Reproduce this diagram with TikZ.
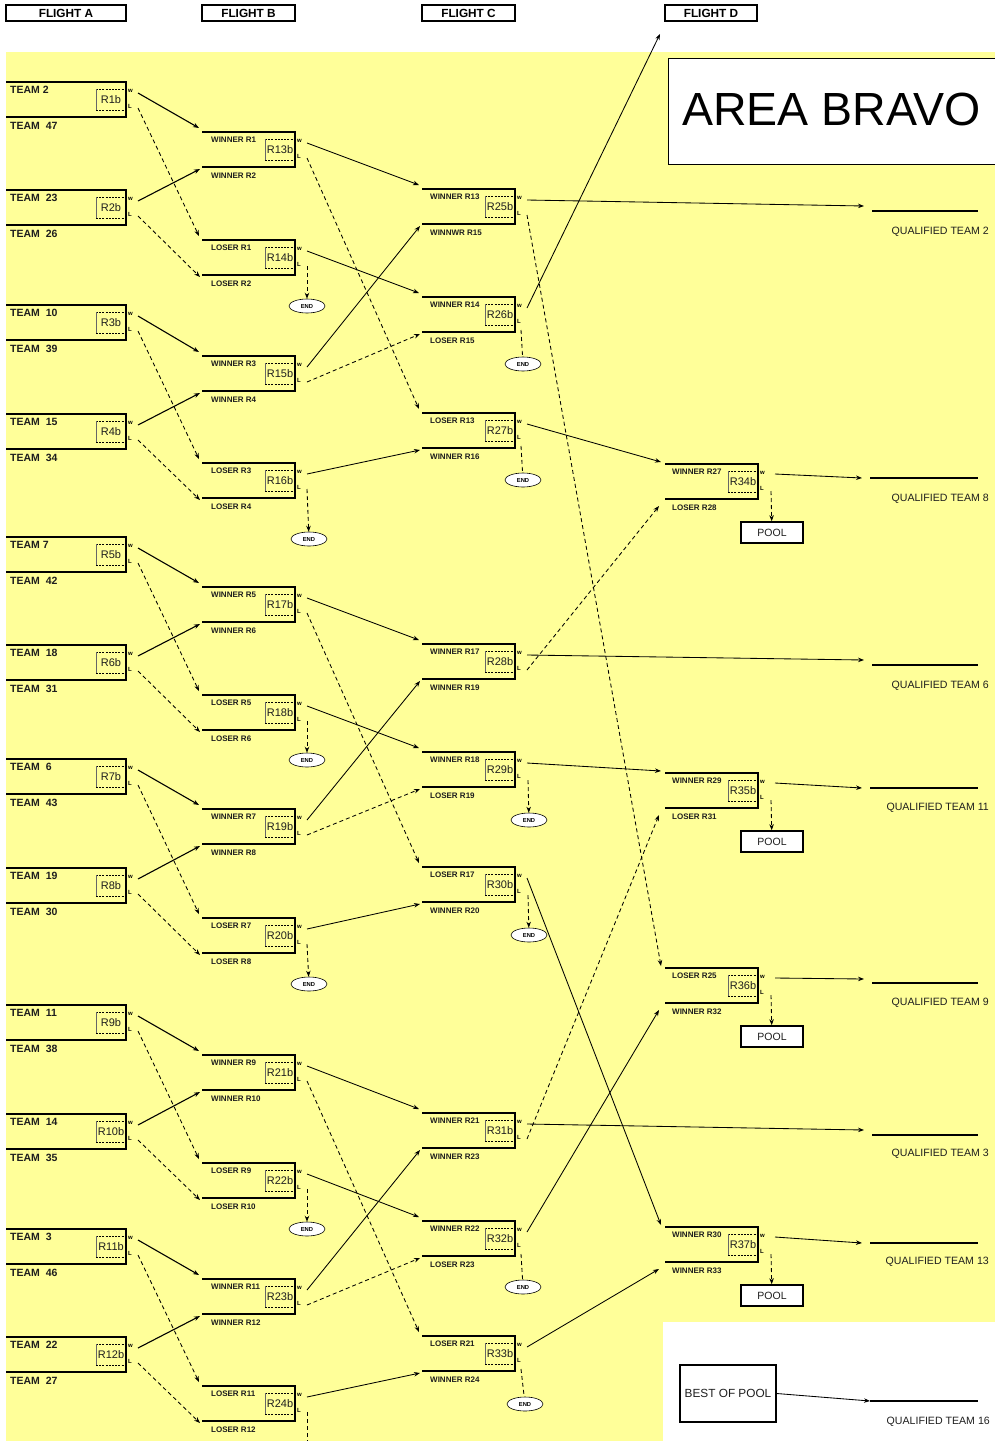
\documentclass[tikz,border=0pt]{standalone}
\usepackage{fontspec}
\setmainfont{Liberation Sans}
\usetikzlibrary{arrows.meta,shapes.geometric}
\definecolor{bgyellow}{RGB}{255,255,153}
\definecolor{txt}{RGB}{30,30,30}
\newcommand{\mbx}[9]{%
  \draw[boxline] (#2,#4) -- (#3,#4) -- (#3,#4+35) -- (#2,#4+35);
  \draw[line width=0.6pt, dash pattern=on 2pt off 1.2pt] (#3-30,#4+7) -- (#3,#4+7) (#3-30,#4+28) -- (#3,#4+28);
  \draw[line width=0.8pt, black!60] (#3-30,#4+7) -- (#3-30,#4+28);
  \node[idlbl] (#1id) at (#3-15,#4+17.5) {#7};
  \node[wl] (#1wt) at (#3+4.5,#4+9) {w};
  \node[wl] (#1lt) at (#3+4,#4+24) {L};
  \node[#8] (#1top) at (#2+#9,#4+8) {#5};
  \node[#8] (#1bot) at (#2+#9,#4+43.5) {#6};
  \coordinate (#1w) at (#3+12,#4+11);
  \coordinate (#1l) at (#3+12,#4+26);
  \coordinate (#1a) at (#2-3,#4-4);
  \coordinate (#1b) at (#2-2,#4+37);
}
\begin{document}
\begin{tikzpicture}[x=1pt,y=-1pt,
  boxline/.style={line width=1.8pt},
  conn/.style={line width=0.85pt, -{Stealth[length=6pt,width=4.5pt]}},
  dconn/.style={conn, dash pattern=on 4pt off 3pt},
  dline/.style={line width=0.85pt, dash pattern=on 4pt off 3pt},
  teamtxt/.style={font=\bfseries\fontsize{10.5}{12}\selectfont, anchor=west, inner sep=0pt, text=txt},
  slot/.style={font=\bfseries\fontsize{8}{9}\selectfont, anchor=west, inner sep=0pt, text=txt},
  idlbl/.style={font=\fontsize{11}{12}\selectfont, inner sep=0pt, text=txt},
  wl/.style={font=\bfseries\fontsize{6}{7}\selectfont, inner sep=0pt},
  endnode/.style={ellipse, draw, fill=white, minimum width=36pt, minimum height=14pt, inner sep=0pt, font=\bfseries\fontsize{5.8}{6}\selectfont, line width=0.6pt},
  pool/.style={draw, line width=1.6pt, fill=white, minimum width=62pt, minimum height=21pt, inner sep=0pt, font=\fontsize{10.5}{12}\selectfont, text=txt},
  qual/.style={font=\fontsize{10.6}{12}\selectfont, anchor=east, inner sep=0pt, text=txt},
  flight/.style={draw, line width=1.6pt, minimum height=16pt, inner sep=0pt, font=\bfseries\fontsize{11.8}{13}\selectfont}
]
\useasboundingbox (0,0) rectangle (995,1441);
% background
\fill[white] (0,0) rectangle (995,1441);
\fill[bgyellow] (6,52) rectangle (995,1441);
\fill[white] (663,1322) rectangle (995,1441);
% flight headers
\node[flight, minimum width=120pt] (fA) at (66,13) {FLIGHT A};
\node[flight, minimum width=93pt] (fB) at (248.5,13) {FLIGHT B};
\node[flight, minimum width=93pt] (fC) at (468.5,13) {FLIGHT C};
\node[flight, minimum width=92pt] (fD) at (711,13) {FLIGHT D};
% area box
\draw[line width=0.9pt, fill=white] (668,58) rectangle (1000,164);
\node[anchor=west, inner sep=0pt, font=\fontsize{46.5}{50}\selectfont] (area) at (682,109) {AREA BRAVO};
% Flight A
\foreach \n/\ty/\p/\q in {1/82/TEAM 2/TEAM~~47, 2/190/TEAM~~23/TEAM~~26, 3/305/TEAM~~10/TEAM~~39, 4/414/TEAM~~15/TEAM~~34,
  5/537/TEAM 7/TEAM~~42, 6/645/TEAM~~18/TEAM~~31, 7/759/TEAM~~6/TEAM~~43, 8/868/TEAM~~19/TEAM~~30,
  9/1005/TEAM~~11/TEAM~~38, 10/1114/TEAM~~14/TEAM~~35, 11/1229/TEAM~~3/TEAM~~46, 12/1337/TEAM~~22/TEAM~~27}
  {\mbx{R\n}{6}{126}{\ty}{\p}{\q}{R\n b}{teamtxt}{4}}
% Flight B
\foreach \n/\ty/\p/\q in {13/132/WINNER R1/WINNER R2, 14/240/LOSER R1/LOSER R2, 15/356/WINNER R3/WINNER R4, 16/463/LOSER R3/LOSER R4,
  17/587/WINNER R5/WINNER R6, 18/695/LOSER R5/LOSER R6, 19/809/WINNER R7/WINNER R8, 20/918/LOSER R7/LOSER R8,
  21/1055/WINNER R9/WINNER R10, 22/1163/LOSER R9/LOSER R10, 23/1279/WINNER R11/WINNER R12, 24/1386/LOSER R11/LOSER R12}
  {\mbx{R\n}{202}{295}{\ty}{\p}{\q}{R\n b}{slot}{9}}
% Flight C
\foreach \n/\ty/\p/\q in {25/189/WINNER R13/WINNWR R15, 26/297/WINNER R14/LOSER R15, 27/413/LOSER R13/WINNER R16,
  28/644/WINNER R17/WINNER R19, 29/752/WINNER R18/LOSER R19, 30/867/LOSER R17/WINNER R20,
  31/1113/WINNER R21/WINNER R23, 32/1221/WINNER R22/LOSER R23, 33/1336/LOSER R21/WINNER R24}
  {\mbx{R\n}{422}{515}{\ty}{\p}{\q}{R\n b}{slot}{8}}
% Flight D
\foreach \n/\ty/\p/\q in {34/464/WINNER R27/LOSER R28, 35/773/WINNER R29/LOSER R31, 36/968/LOSER R25/WINNER R32, 37/1227/WINNER R30/WINNER R33}
  {\mbx{R\n}{665}{758}{\ty}{\p}{\q}{R\n b}{slot}{7}
   \coordinate (R\n a) at (661,\ty-2);
   \coordinate (R\n b) at (659,\ty+42);
   \coordinate (R\n w) at (775,\ty+10);
   \coordinate (R\n p) at (771,\ty+27);}
% A -> B
\foreach \va/\vb/\vc/\vd in {1/2/13/14, 3/4/15/16, 5/6/17/18, 7/8/19/20, 9/10/21/22, 11/12/23/24}{
  \draw[conn, line width=1.1pt] (R\va w) -- (R\vc a);
  \draw[conn, line width=1.1pt] (R\vb w) -- (R\vc b);
  \draw[dconn] (R\va l) -- (R\vd a);
  \draw[dconn] (R\vb l) -- (R\vd b);
}
% B -> C
\foreach \va/\vb/\vc/\vd/\ve/\vf/\vg in {13/14/15/16/25/26/27, 17/18/19/20/28/29/30, 21/22/23/24/31/32/33}{
  \draw[conn] (R\va w) -- (R\ve a);
  \draw[conn] (R\vc w) -- (R\ve b);
  \draw[conn] (R\vb w) -- (R\vf a);
  \draw[dconn] (R\vc l) -- (R\vf b);
  \draw[dconn] (R\va l) -- (R\vg a);
  \draw[conn] (R\vd w) -- (R\vg b);
}
% END nodes flight B
\node[endnode] (end14) at (307,306) {END};
\node[endnode] (end16) at (309,539) {END};
\node[endnode] (end18) at (307,760) {END};
\node[endnode] (end20) at (309,984) {END};
\node[endnode] (end22) at (307,1229) {END};
\foreach \n in {14,16,18,20,22}{\draw[dconn] (R\n l) -- (end\n);}
\coordinate (R24off) at (307,1441);
\draw[dline] (R24l) -- (R24off);
% END nodes flight C
\node[endnode] (end26) at (523,364) {END};
\node[endnode] (end27) at (523,480) {END};
\node[endnode] (end29) at (529,820) {END};
\node[endnode] (end30) at (529,935) {END};
\node[endnode] (end32) at (523,1287) {END};
\node[endnode] (end33) at (525,1404) {END};
\coordinate (R26d) at (521,330);
\coordinate (R27d) at (521,446);
\coordinate (R29d) at (528,780);
\coordinate (R30d) at (528,895);
\coordinate (R32d) at (521,1254);
\coordinate (R33d) at (521,1369);
\foreach \n in {26,27,32,33}{\draw[dline] (R\n d) -- (end\n);}
\foreach \n in {29,30}{\draw[dconn] (R\n d) -- (end\n);}
% C -> D
\coordinate (toD) at (660,34);
\draw[conn] (R26w) -- (toD);
\draw[dconn] (R25l) -- (R36a);
\draw[conn] (R27w) -- (R34a);
\draw[dconn] (R28l) -- (R34b);
\draw[conn] (R29w) -- (R35a);
\draw[conn] (R30w) -- (R37a);
\draw[dconn] (R31l) -- (R35b);
\draw[conn] (R32w) -- (R36b);
\draw[conn] (R33w) -- (R37b);
% POOL
\node[pool] (pool34) at (772,532.5) {POOL};
\node[pool] (pool35) at (772,841.5) {POOL};
\node[pool] (pool36) at (772,1036.5) {POOL};
\node[pool] (pool37) at (772,1295.5) {POOL};
\foreach \n in {34,35,36,37}{\draw[dconn] (R\n p) -- (pool\n);}
% best of pool
\node[draw, line width=1.5pt, fill=white, minimum width=96pt, minimum height=57pt, inner sep=0pt, font=\fontsize{11.8}{13}\selectfont, text=txt] (bop) at (728,1393.5) {BEST OF POOL};
% qualified
\foreach \n/\src/\sy/\ty/\ly/\lx in {2/R25w/206/211/232/872, 8/R34w/478/478/499/870, 6/R28w/660/665/686/872, 11/R35w/788/788/808/870,
  9/R36w/979/983/1003/872, 3/R31w/1130/1135/1154/872, 13/R37w/1243/1243/1262/870}{
  \coordinate (q\n t) at (\lx-8,\sy);
  \coordinate (q\n s) at (\lx,\ty);
  \coordinate (q\n e) at (978,\ty);
  \draw[line width=1.5pt] (q\n s) -- (q\n e);
  \draw[conn] (\src) -- (q\n t);
  \node[qual] (q\n lbl) at (989,\ly) {QUALIFIED TEAM \n};
}
\coordinate (q16t) at (870,1401);
\coordinate (q16s) at (870,1401);
\coordinate (q16e) at (978,1401);
\draw[line width=1.5pt] (q16s) -- (q16e);
\draw[conn] (bop.east) -- (q16t);
\node[qual] (q16lbl) at (990,1422) {QUALIFIED TEAM 16};
\end{tikzpicture}
\end{document}
